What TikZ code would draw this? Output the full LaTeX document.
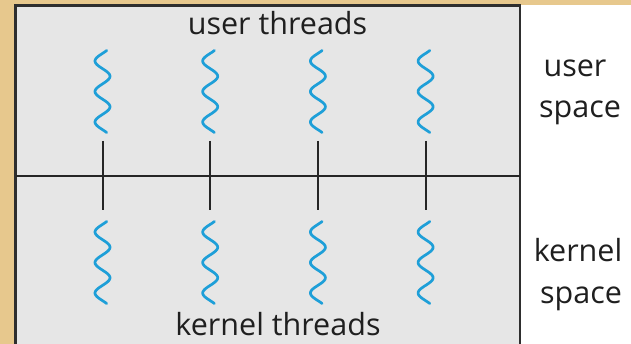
\documentclass[tikz,border=0pt]{standalone}
\usepackage{fontspec}
\setmainfont{Open Sans}
\begin{document}
\begin{tikzpicture}[x=1pt,y=-1pt,
  label/.style={font=\fontsize{30.5}{40}\selectfont, text=black!88, inner sep=0pt, anchor=base},
  wave/.style={draw=threadblue, line width=2.7pt, line cap=round},
  link/.style={draw=black!85, line width=2pt},
  divider/.style={draw=black!85, line width=1.5pt},
  frame/.style={draw=black!82, line width=2.5pt, fill=panelgray}]
\definecolor{threadblue}{HTML}{1E9FD8}
\definecolor{panelgray}{HTML}{E6E6E6}
\definecolor{parchment}{HTML}{E7C88D}
\tikzset{squiggle/.pic={
  \draw[wave] plot[domain=-0.6:16.3, samples=90, smooth, variable=\t]
    ({-7.5*sin(\t r)}, {\t*30.5/6.2832});}}
\useasboundingbox (0,0) rectangle (631,344);
\clip (0,0) rectangle (631,344);
% page background
\fill[parchment] (0,0) rectangle (631,344);
\fill[white] (520,5.5) rectangle (631,344);
% address-space panel
\draw[frame] (15.5,5.5) rectangle (520,360);
\coordinate (divL) at (15.5,176);
\coordinate (divR) at (520,176);
\draw[divider] (divL) -- (divR);
% one-to-one pairs of user and kernel threads
\foreach \i in {1,...,4}{
  \pgfmathsetmacro{\xx}{102.5+107.7*(\i-1)}
  \pic at (\xx,53.4) {squiggle};
  \pic at (\xx,224.4) {squiggle};
  \coordinate (top\i) at (\xx,141);
  \coordinate (bot\i) at (\xx,210);
  \draw[link] (top\i) -- (bot\i);
}
% labels
\node[label] (ut) at (277.5,35) {user threads};
\node[label] (kt) at (278,335) {kernel threads};
\node[label] (us1) at (575,77) {user};
\node[label] (us2) at (580,118) {space};
\node[label] (ks1) at (578,262) {kernel};
\node[label] (ks2) at (581,303) {space};
\end{tikzpicture}
\end{document}
